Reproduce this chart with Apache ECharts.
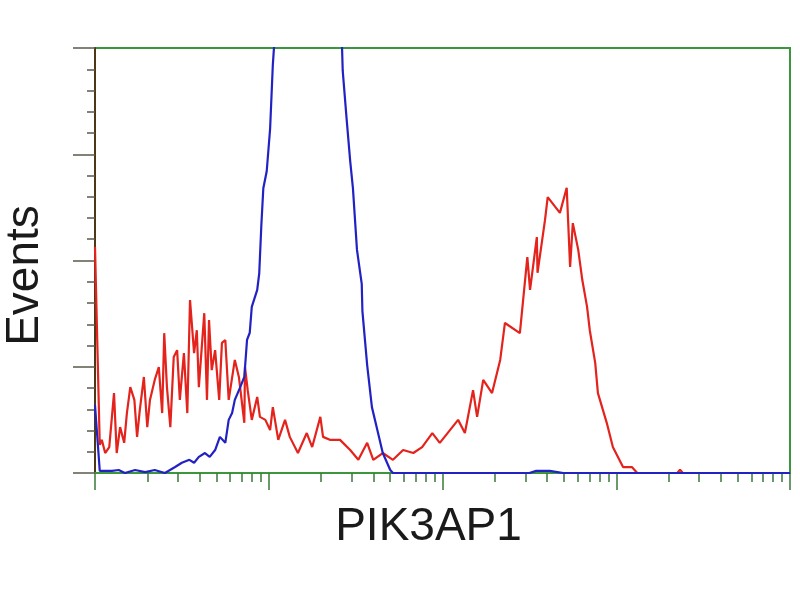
<!DOCTYPE html>
<html>
<head>
<meta charset="utf-8">
<title>PIK3AP1</title>
<script src="https://cdn.jsdelivr.net/npm/echarts@6/dist/echarts.min.js"></script>
<style>
  html, body { margin: 0; padding: 0; background: #fff; }
  #chart { width: 800px; height: 600px; }
</style>
</head>
<body>
<div id="chart"></div>
<script>
// histogram channels (0-1024 over 4 log decades) and event counts
var redCh = [0, 7, 10, 15, 21, 28, 32, 37, 43, 47, 52, 58, 62, 66, 72, 77, 81, 88, 94, 99,
  102, 106, 111, 116, 121, 125, 131, 136, 140, 146, 150, 153, 161, 165, 168, 172, 177, 183, 187, 192,
  197, 206, 212, 220, 221, 225, 231, 239, 243, 251, 258, 262, 270, 280, 287, 299, 312, 320, 332, 336,
  346, 361, 376, 388, 401, 410, 424, 439, 454, 469, 482, 497, 508, 523, 535, 545, 557, 563, 572, 585,
  597, 604, 626, 637, 641, 651, 652, 663, 667, 685, 695, 700, 704, 712, 718, 725, 729, 737, 741, 754,
  763, 778, 791, 799, 858, 862, 866, 1024];
var redY = [53.2, 6.6, 7.8, 4.7, 6.1, 18.8, 4.7, 10.8, 7.1, 14.1, 20.2, 17.2, 8.5, 14.8, 22.6, 10.8, 17.2, 21.9, 24.9, 14.1,
  32.9, 20.2, 10.8, 27.3, 28.9, 17.2, 28.2, 14.1, 40.7, 28.2, 33.6, 20.2, 37.6, 17.2, 36.0, 24.2, 28.9, 17.2, 30.6, 31.3,
  17.2, 26.6, 22.6, 11.8, 24.9, 19.5, 12.5, 17.9, 13.2, 12.5, 10.1, 15.5, 7.8, 12.5, 8.5, 4.7, 9.4, 6.1, 13.2, 8.5,
  7.8, 7.8, 5.4, 3.1, 7.1, 3.1, 4.7, 3.1, 5.4, 4.7, 6.1, 9.4, 7.1, 10.1, 12.5, 9.4, 19.5, 13.2, 21.9, 18.8,
  26.6, 35.3, 32.9, 50.8, 43.1, 55.5, 47.1, 59.5, 64.9, 61.2, 67.1, 48.5, 58.8, 52.5, 45.4, 39.1, 33.6, 25.9, 18.8, 11.8,
  6.1, 1.4, 1.4, 0, 0, 0.8, 0, 0];

var blueCh = [0, 7, 25, 35, 44, 59, 74, 88, 103, 118, 128, 139, 146, 153, 162, 169, 177, 184, 192, 197,
  202, 206, 214, 220, 224, 228, 231, 239, 242, 245, 248, 253, 258, 262, 267, 287, 317, 346, 361, 364,
  365, 371, 376, 380, 386, 393, 394, 401, 408, 416, 424, 435, 439, 640, 650, 670, 690, 1024];
var blueY = [16, 0.5, 0.5, 0.7, 0, 0.7, 0.2, 0.7, 0, 1.4, 2.4, 3.1, 2.4, 3.8, 4.7, 3.8, 5.4, 8.5, 7.1, 12.5,
  14.1, 17.2, 20.2, 22.6, 31.3, 33, 39.1, 43.1, 47, 58, 67, 71, 81, 96, 108, 125, 132, 125, 108, 100,
  94.6, 82.8, 73.4, 67.1, 52.5, 44.5, 38.1, 25.4, 15.5, 10.1, 4.7, 0.7, 0, 0, 0.5, 0.5, 0, 0];

// x axis ticks as fluorescence intensities
var majorTicks = [1, 10, 100, 1000, 10000];
var minorTicks = [2, 3, 4, 5, 6, 7, 8, 9, 20, 30, 40, 50, 60, 70, 80, 90,
  200, 300, 400, 500, 600, 700, 800, 900, 2000, 3000, 4000, 5000, 6000, 7000, 8000, 9000];

function toChannel(v) { return 256 * Math.log10(v); }
function pairs(xs, ys) {
  var out = [];
  for (var i = 0; i < xs.length; i++) out.push([xs[i], ys[i]]);
  return out;
}

var green = '#3c963c';
var font = "'Liberation Sans', Arial, sans-serif";

var chart = echarts.init(document.getElementById('chart'));
chart.setOption({
  animation: false,
  backgroundColor: '#fff',
  grid: {
    left: 95, right: 10, top: 48, bottom: 127,
    outerBoundsMode: 'none', containLabel: false,
    show: true, borderColor: green, borderWidth: 2, backgroundColor: 'transparent'
  },
  xAxis: [{
    type: 'value', min: 0, max: 1024,
    name: 'PIK3AP1', nameLocation: 'middle', nameGap: 31,
    nameTextStyle: { fontFamily: font, fontSize: 46, color: '#1a1a1a', padding: [0, 28, 0, 0] },
    axisLine: { lineStyle: { color: green, width: 2 } },
    axisTick: { show: true, customValues: majorTicks.map(toChannel), length: 17, lineStyle: { color: '#3a7a3a', width: 1.5 } },
    axisLabel: { show: false },
    splitLine: { show: false }
  }, {
    type: 'value', min: 0, max: 1024, position: 'bottom',
    axisLine: { show: false },
    axisTick: { show: true, customValues: minorTicks.map(toChannel), length: 9, lineStyle: { color: '#3a7a3a', width: 1.5 } },
    axisLabel: { show: false },
    splitLine: { show: false }
  }],
  yAxis: {
    type: 'value', min: 0, max: 100, interval: 25,
    name: 'Events', nameLocation: 'middle', nameGap: 47, nameRotate: 90,
    nameTextStyle: { fontFamily: font, fontSize: 46, color: '#1a1a1a', padding: [0, 30, 0, 0] },
    axisLine: { show: true, lineStyle: { color: '#4b3818', width: 2 } },
    axisTick: { show: true, length: 22, lineStyle: { color: '#5a5a4a', width: 1.5 } },
    minorTick: { show: true, splitNumber: 5, length: 8, lineStyle: { color: '#5a5a4a', width: 1.5 } },
    axisLabel: { show: false },
    splitLine: { show: false }
  },
  series: [{
    name: 'PIK3AP1', type: 'line', data: pairs(redCh, redY),
    showSymbol: false, clip: true,
    lineStyle: { color: '#e3231c', width: 2.2 }
  }, {
    name: 'control', type: 'line', data: pairs(blueCh, blueY),
    showSymbol: false, clip: true,
    lineStyle: { color: '#2222c4', width: 2.2 }
  }]
});
</script>
</body>
</html>
